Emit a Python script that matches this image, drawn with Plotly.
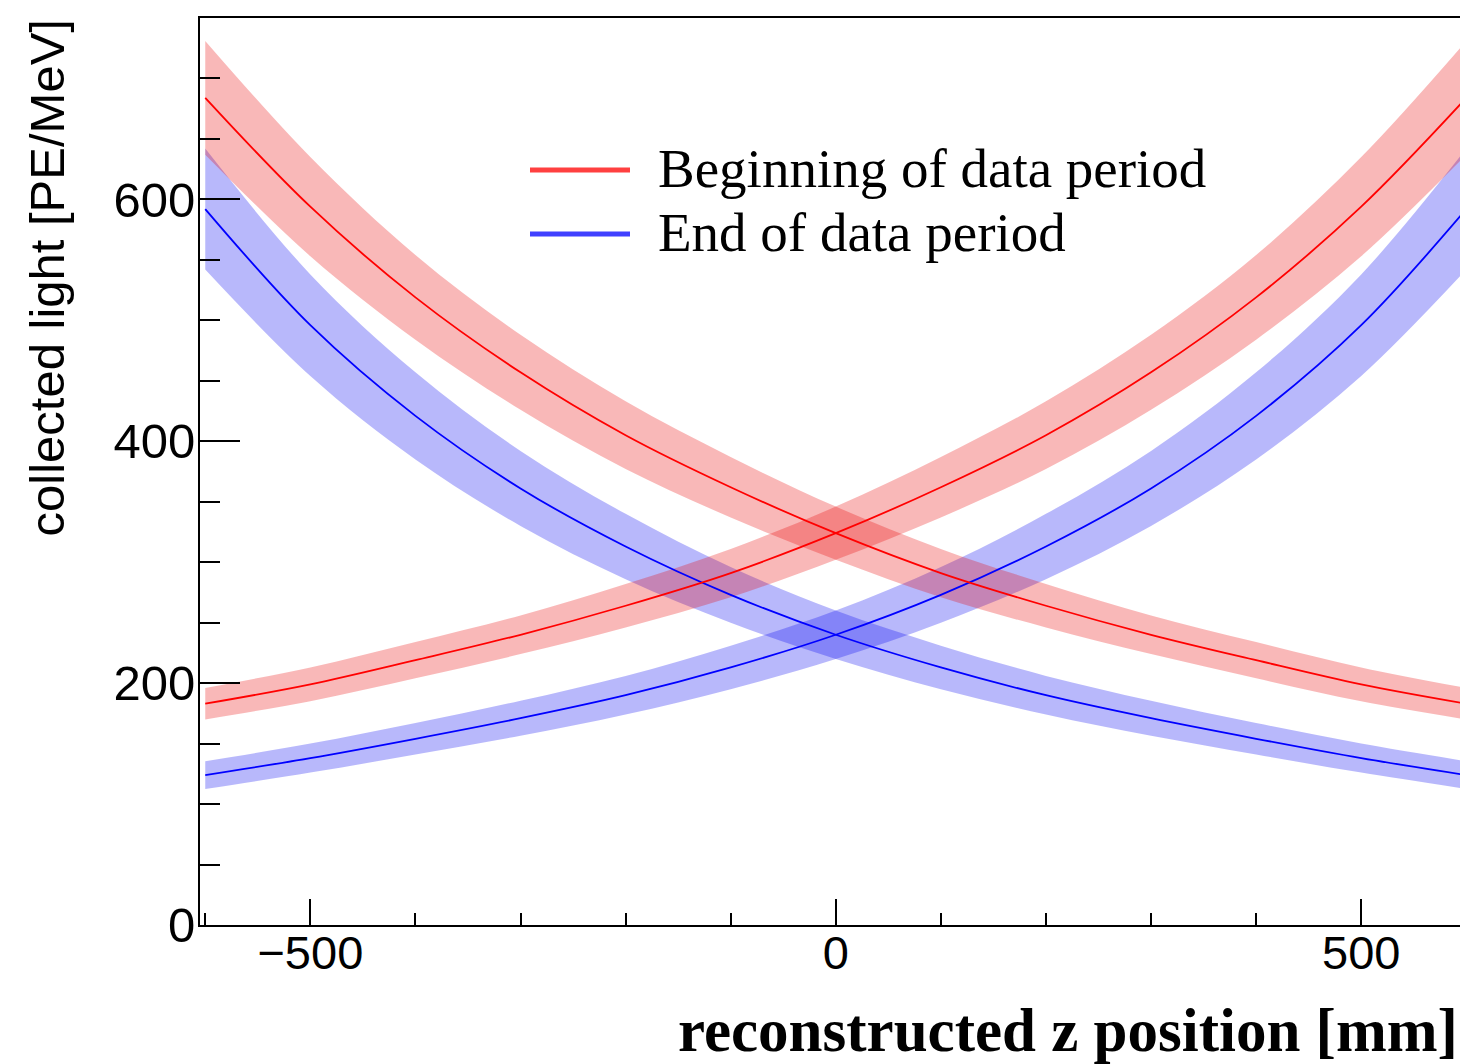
import plotly.graph_objects as go

# reconstructed z position [mm]
z_mm = [-600, -500, -400, -300, -200, -100, 0, 100, 200, 300, 400, 500, 600]

# Beginning of data period (red): light seen from the two ends
red_left = [684, 594, 519, 457, 405, 362, 324, 291, 264, 240, 219, 199, 183]
red_right = [183, 199, 219, 240, 264, 291, 324, 362, 405, 457, 519, 594, 684]
red_left_err = [47, 41, 35, 31, 28, 25, 22, 20, 18, 16, 15, 14, 13]
red_right_err = [13, 14, 15, 16, 18, 20, 22, 25, 28, 31, 35, 41, 47]

# End of data period (blue)
blue_left = [592, 496, 421, 361, 313, 273, 240, 213, 190, 171, 154, 138, 124]
blue_right = [124, 138, 154, 171, 190, 213, 240, 273, 313, 361, 421, 496, 592]
blue_left_err = [50, 42, 36, 31, 27, 23, 20, 18, 16, 14.5, 13, 12, 11.5]
blue_right_err = [11.5, 12, 13, 14.5, 16, 18, 20, 23, 27, 31, 36, 42, 50]

legend_labels = ["Beginning of data period", "End of data period"]

RED_FILL = "rgba(235,0,0,0.28)"
BLUE_FILL = "rgba(0,0,240,0.28)"

fig = go.Figure()


def add_band(vals, errs, fillcolor):
    up = [v + e for v, e in zip(vals, errs)]
    lo = [v - e for v, e in zip(vals, errs)]
    fig.add_trace(go.Scatter(x=z_mm, y=up, mode="lines",
                             line=dict(width=0, shape="spline"),
                             hoverinfo="skip", showlegend=False))
    fig.add_trace(go.Scatter(x=z_mm, y=lo, mode="lines",
                             line=dict(width=0, shape="spline"),
                             fill="tonexty", fillcolor=fillcolor,
                             hoverinfo="skip", showlegend=False))


# bands: blue first, red on top
add_band(blue_left, blue_left_err, BLUE_FILL)
add_band(blue_right, blue_right_err, BLUE_FILL)
add_band(red_left, red_left_err, RED_FILL)
add_band(red_right, red_right_err, RED_FILL)

for vals in (blue_left, blue_right):
    fig.add_trace(go.Scatter(x=z_mm, y=vals, mode="lines",
                             line=dict(color="#0000ff", width=1.8, shape="spline"),
                             showlegend=False))
for vals in (red_left, red_right):
    fig.add_trace(go.Scatter(x=z_mm, y=vals, mode="lines",
                             line=dict(color="#ff0000", width=1.8, shape="spline"),
                             showlegend=False))

PLOT_W = 1260
PLOT_H = 907


def px_x(p):
    return (p - 200) / PLOT_W


def px_y(p):
    return (925 - p) / PLOT_H


xtickfont = dict(family="Liberation Sans, Arial, sans-serif", size=47, color="black")
ytickfont = dict(family="Liberation Sans, Arial, sans-serif", size=49, color="black")

fig.update_layout(
    width=1461, height=1064,
    margin=dict(l=200, r=1, t=18, b=139),
    paper_bgcolor="white", plot_bgcolor="white",
    showlegend=False,
    xaxis=dict(range=[-605, 594], showgrid=False, zeroline=False,
               showline=True, linecolor="black", linewidth=2, mirror=True,
               ticks="inside", ticklen=26, tickwidth=2, tickcolor="black",
               tick0=0, dtick=500, tickfont=xtickfont, ticklabelstandoff=-14,
               minor=dict(ticks="inside", ticklen=12, tickwidth=2,
                          tickcolor="black", dtick=100, showgrid=False)),
    yaxis=dict(range=[0, 750], showgrid=False, zeroline=False,
               showline=True, linecolor="black", linewidth=2, mirror=False,
               ticks="inside", ticklen=40, tickwidth=2, tickcolor="black",
               tick0=0, dtick=200, tickfont=ytickfont, ticklabelstandoff=-7,
               minor=dict(ticks="inside", ticklen=20, tickwidth=2,
                          tickcolor="black", dtick=50, showgrid=False)),
)

# legend (drawn manually, ROOT style)
leg_colors = ["#ff4040", "#4040ff"]
leg_rows = [170, 234]
for lab, col, row in zip(legend_labels, leg_colors, leg_rows):
    fig.add_shape(type="line", xref="paper", yref="paper",
                  x0=px_x(530), x1=px_x(630), y0=px_y(row), y1=px_y(row),
                  line=dict(color=col, width=5))
    fig.add_annotation(text=lab, xref="paper", yref="paper",
                       x=px_x(656), y=px_y(row - 2), xanchor="left", yanchor="middle",
                       showarrow=False,
                       font=dict(family="Liberation Serif, Times New Roman, serif",
                                 size=55, color="black"))

# axis titles
fig.add_annotation(text="collected light [PE/MeV]", xref="paper", yref="paper",
                   x=px_x(46), y=1, xanchor="center", yanchor="top",
                   textangle=-90, showarrow=False,
                   font=dict(family="Liberation Sans, Arial, sans-serif", size=49, color="black"))
fig.add_annotation(text="<b>reconstructed z position [mm]</b>", xref="paper", yref="paper",
                   x=1, y=px_y(1030), xanchor="right", yanchor="middle",
                   showarrow=False,
                   font=dict(family="Liberation Serif, Times New Roman, serif", size=61, color="black"))

fig.write_html("out.html")
